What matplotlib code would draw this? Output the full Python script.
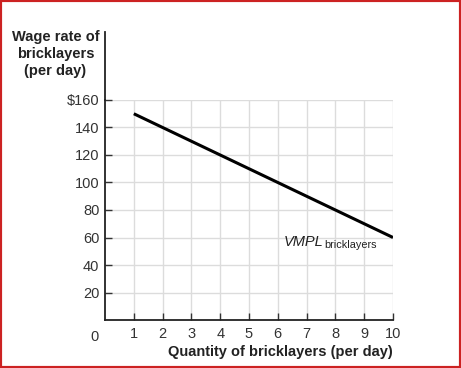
import matplotlib.pyplot as plt
from matplotlib.patches import Rectangle

# data
workers = [1, 10]
vmpl = [150, 60]
x_ticks = [1, 2, 3, 4, 5, 6, 7, 8, 9, 10]
y_ticks = [20, 40, 60, 80, 100, 120, 140, 160]
y_labels = ["20", "40", "60", "80", "100", "120", "140", "$160"]

plt.rcParams['font.family'] = ['Liberation Sans', 'DejaVu Sans']

fig = plt.figure(figsize=(4.61, 3.68), dpi=100)
ax = fig.add_axes([0.2278, 0.1304, 0.6247, 0.5979])

ax.plot(workers, vmpl, color='black', lw=2.2, solid_capstyle='butt')

ax.set_xlim(0, 10)
ax.set_ylim(0, 160)
ax.set_xticks(x_ticks)
ax.set_xticklabels([str(t) for t in x_ticks])
ax.set_yticks(y_ticks)
ax.set_yticklabels(y_labels)
ax.tick_params(direction='in', length=5, width=1, labelsize=10.5, colors='#333333', pad=4)
ax.tick_params(axis='x', pad=5)
ax.grid(True, color='#dcdcdc', lw=1)
ax.set_axisbelow(True)
for s in ['top', 'right']:
    ax.spines[s].set_visible(False)
for s in ['left', 'bottom']:
    ax.spines[s].set_linewidth(1.3)
    ax.spines[s].set_color('#222222')

# left axis line goes up beside the label
ax.plot([0, 0], [1, 1.31], transform=ax.transAxes, color='#222222', lw=1.3, clip_on=False)

ax.text(-0.035, -0.045, "0", transform=ax.transAxes, ha='center', va='top', fontsize=10.5, color='#333333')

ax.text(-0.172, 1.32, "Wage rate of\nbricklayers\n(per day)", transform=ax.transAxes,
        ha='center', va='top', fontsize=10.5, fontweight='bold', linespacing=1.3,
        multialignment='center', color='#222222')
ax.text(1.0, -0.115, "Quantity of bricklayers (per day)", transform=ax.transAxes,
        ha='right', va='top', fontsize=10.5, fontweight='bold', color='#222222')

ax.text(6.2, 54, "VMPL", style='italic', fontsize=10.5, ha='left', va='baseline', color='#222222')
ax.text(7.6, 52.5, "bricklayers", fontsize=7.8, ha='left', va='baseline', color='#222222')

fig.patches.append(Rectangle((0, 0), 1, 1, transform=fig.transFigure, fill=False,
                             edgecolor='#cc2222', lw=3))

fig.savefig('out.png', dpi=100)
